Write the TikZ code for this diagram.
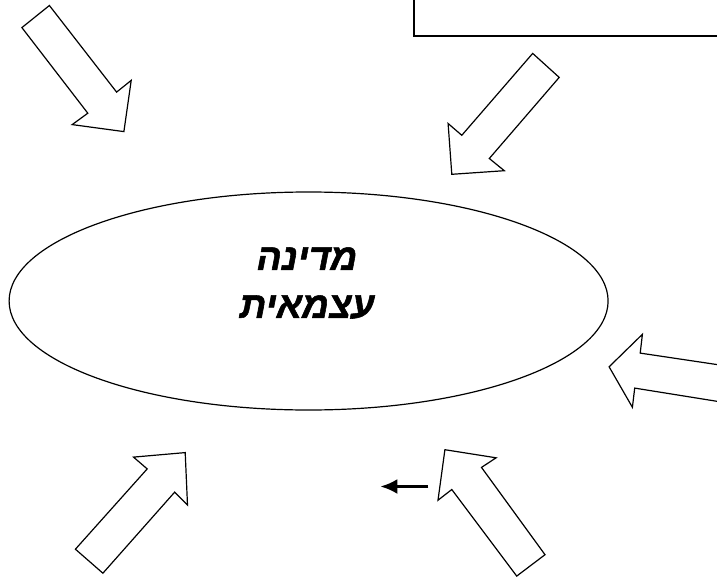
\documentclass[tikz,border=0pt]{standalone}
\usepackage{fontspec}
\usetikzlibrary{shapes.geometric}
\usetikzlibrary{arrows.meta}
\TeXXeTstate=1
\newfontfamily\hebfont[Script=Hebrew,FakeBold=1.5]{Liberation Sans}

\begin{document}
\begin{tikzpicture}[
			     x=1pt, y=-1pt,
			     blockarrow/.style={draw, line width=1.2pt, line join=miter},
			     statebox/.style={draw, ellipse, line width=1.2pt, inner sep=0pt},
			     thin arrow/.style={-{Latex[length=17pt,width=15pt]}, line width=2.6pt}
			     ]
\useasboundingbox (0,0) rectangle (717,578);
\clip (0,0) rectangle (717,578);
% frame at the top right
\draw[line width=1.6pt] (414,-20) rectangle (740,36);
% the state in the middle
\node[statebox, minimum width=599pt, minimum height=218pt] (state) at (308.6,301) {};
\node[font=\hebfont\bfseries\itshape\fontsize{37}{48}\selectfont, align=center] (label) at (307,283)
  {\beginR מדינה\endR\\\beginR עצמאית\endR};
% block arrows round the state
\draw[blockarrow] (21.9,27.6) -- (49.4,5.5) -- (116.6,92.1) -- (131.2,80.4) -- (123.9,131.6)
  -- (72.2,124.6) -- (87.8,113.2) -- cycle;
\draw[blockarrow] (532.7,53.4) -- (559.2,77.4) -- (489.3,158.5) -- (504.3,170.7) -- (451.8,174.3)
  -- (448.1,123.5) -- (461.8,135.3) -- cycle;
\draw[blockarrow] (740,368) -- (640.2,353.1) -- (642.4,334.3) -- (609.1,366.8) -- (632.4,407.3)
  -- (634.7,388.1) -- (740,405) -- cycle;
\draw[blockarrow] (75.4,549.2) -- (102.9,573.2) -- (174.7,492.1) -- (187.5,505) -- (185.2,452.6)
  -- (133.5,457.1) -- (147.2,468.9) -- cycle;
\draw[blockarrow] (516.7,576.1) -- (545,554.7) -- (481.5,467.4) -- (496.1,457.8) -- (444.9,449.7)
  -- (438,500.2) -- (451.8,489.5) -- cycle;
% small arrow
\coordinate (from) at (428.4,486.5);
\coordinate (to) at (380.4,486.5);
\draw[thin arrow] (from) -- (to);
\end{tikzpicture}
\end{document}
